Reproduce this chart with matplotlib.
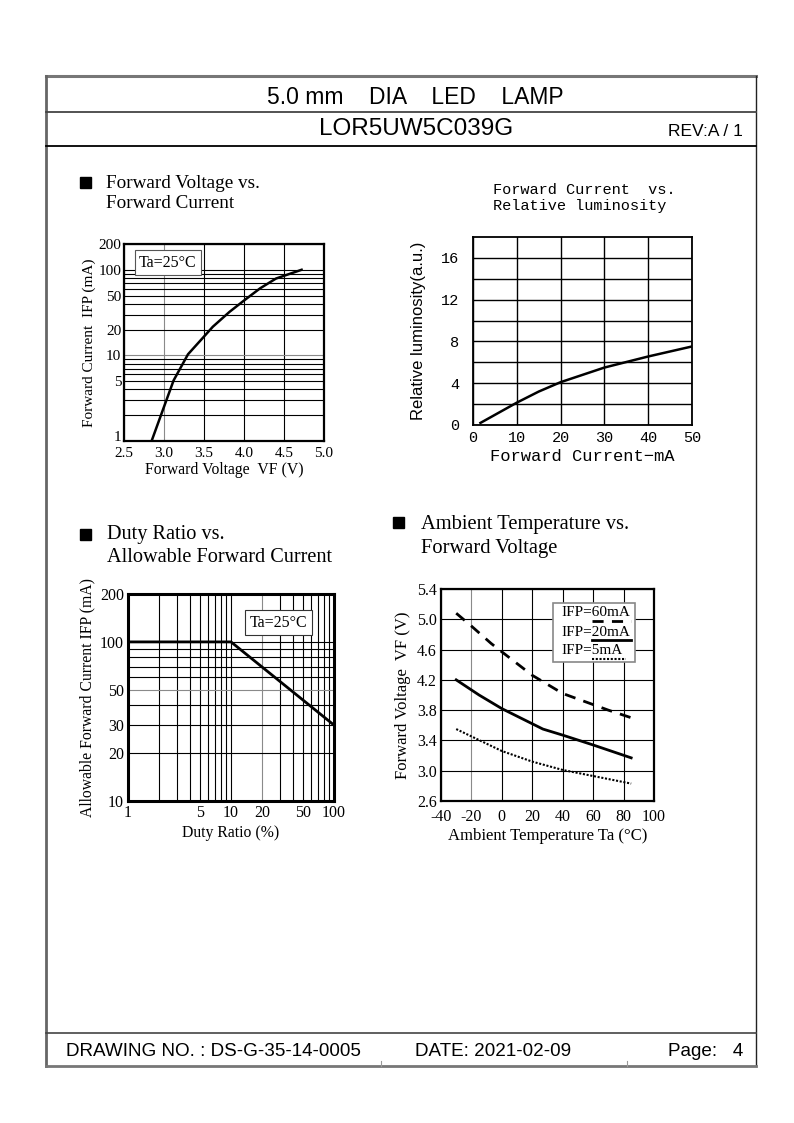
import numpy as np
import matplotlib.pyplot as plt
from matplotlib.lines import Line2D
from matplotlib.patches import Rectangle
from matplotlib.ticker import FixedLocator, NullFormatter

plt.rcParams['font.family'] = ['Liberation Serif', 'DejaVu Sans']
plt.rcParams['axes.unicode_minus'] = False

# ---- data ----
# forward voltage vs forward current (log y)
vf_volt = [2.845, 2.97, 3.12, 3.30, 3.49, 3.61, 3.82, 3.99, 4.20, 4.40, 4.72]
vf_curr = [1.0, 2.1, 5.1, 10.3, 16.2, 21.6, 32.3, 43.0, 60.6, 79.0, 100.0]

# forward current vs relative luminosity
lum_curr = [1.7, 10, 15, 20, 30, 40, 50]
lum_rel = [0.2, 2.14, 3.2, 4.1, 5.5, 6.56, 7.52]

# duty ratio vs allowable forward current
duty = [1, 10, 100]
duty_curr = [100, 100, 30]

# ambient temperature vs forward voltage
ta_60 = [-30, -20, -7, 0, 20, 40, 55, 70, 85]
vf_60 = [5.08, 4.91, 4.68, 4.57, 4.26, 4.02, 3.91, 3.80, 3.70]
ta_20 = [-30, -15, 0, 20, 27, 40, 60, 85]
vf_20 = [4.20, 4.00, 3.82, 3.62, 3.55, 3.47, 3.34, 3.17]
ta_5 = [-30, 0, 20, 40, 60, 85]
vf_5 = [3.55, 3.26, 3.12, 3.01, 2.93, 2.83]

legend_labels = ['60mA', '20mA', '5mA']

W, H = 794, 1123
fig = plt.figure(figsize=(W / 100, H / 100), dpi=100)


def box(x0, y0, x1, y1):
    # pixel box (top-left origin) -> figure fraction rect
    return [x0 / W, 1 - y1 / H, (x1 - x0) / W, (y1 - y0) / H]


def ptext(x, y, s, **kw):
    fig.text(x / W, 1 - y / H, s, **kw)


def pline(xs, ys, **kw):
    fig.add_artist(Line2D([x / W for x in xs], [1 - y / H for y in ys], **kw))


def psquare(x, y, s=11):
    fig.add_artist(Rectangle((x / W, 1 - (y + s) / H), s / W, s / H,
                             transform=fig.transFigure, color='k'))


def style_grid(ax, gray_x=(), gray_y=()):
    for t in ax.xaxis.get_major_ticks() + ax.xaxis.get_minor_ticks():
        t.gridline.set_color('#8a8a8a' if round(t.get_loc(), 3) in gray_x else 'k')
    for t in ax.yaxis.get_major_ticks() + ax.yaxis.get_minor_ticks():
        t.gridline.set_color('#8a8a8a' if round(t.get_loc(), 3) in gray_y else 'k')


# ---- page frame ----
pline([46, 756], [76, 76], color='#777777', lw=2.2)
pline([46, 46], [76, 1066], color='#666666', lw=2.0)
pline([756, 756], [76, 1066], color='#222222', lw=1.0)
pline([46, 756], [1066, 1066], color='#777777', lw=2.0)
pline([46, 756], [112, 112], color='#444444', lw=1.3)
pline([46, 756], [146, 146], color='k', lw=1.3)
pline([46, 756], [1033, 1033], color='#444444', lw=1.2)
pline([381, 381], [1061, 1066], color='#999999', lw=0.8)
pline([627, 627], [1061, 1066], color='#999999', lw=0.8)

sans = 'Liberation Sans'
ptext(415, 97, '5.0 mm    DIA    LED    LAMP', family=sans, fontsize=16.5,
      ha='center', va='center')
ptext(416, 129, 'LOR5UW5C039G', family=sans, fontsize=17.5, ha='center', va='center')
ptext(743, 131, 'REV:A / 1', family=sans, fontsize=12.5, ha='right', va='center')
ptext(66, 1052, 'DRAWING NO. : DS-G-35-14-0005', family=sans, fontsize=13.6,
      ha='left', va='center')
ptext(415, 1052, 'DATE: 2021-02-09', family=sans, fontsize=13.6, ha='left', va='center')
ptext(743, 1052, 'Page:   4', family=sans, fontsize=13.6, ha='right', va='center')

# ---- section headings ----
psquare(80, 177)
ptext(106, 183, 'Forward Voltage vs.', fontsize=13.8, va='center')
ptext(106, 204, 'Forward Current', fontsize=13.8, va='center')
psquare(80, 529)
ptext(107, 535, 'Duty Ratio vs.', fontsize=14.6, va='center')
ptext(107, 557, 'Allowable Forward Current', fontsize=14.6, va='center')
psquare(393, 517)
ptext(421, 524, 'Ambient Temperature vs.', fontsize=14.8, va='center')
ptext(421, 548, 'Forward Voltage', fontsize=14.8, va='center')

# ---- chart 1: forward voltage vs forward current ----
ax1 = fig.add_axes(box(124, 244, 324, 441))
ax1.set_yscale('log')
ax1.plot(vf_volt, vf_curr, color='k', lw=1.8, zorder=3)
ax1.set_xlim(2.5, 5.0)
ax1.set_ylim(1, 200)
ax1.set_xticks([2.5, 3.0, 3.5, 4.0, 4.5, 5.0])
ax1.set_xticklabels(['2.5', '3.0', '3.5', '4.0', '4.5', '5.0'])
ax1.set_yticks([1, 5, 10, 20, 50, 100, 200])
ax1.set_yticklabels(['1', '5', '10', '20', '50', '100', '200'])
ax1.yaxis.set_minor_locator(FixedLocator([2, 3, 4, 6, 7, 8, 9, 30, 40, 60, 70, 80, 90]))
ax1.yaxis.set_minor_formatter(NullFormatter())
ax1.grid(True, which='both', lw=0.8)
style_grid(ax1, gray_x=(3.0,), gray_y=(9, 10))
ax1.tick_params(which='both', length=0, labelsize=11)
ax1.tick_params(axis='x', pad=4)
ax1.tick_params(axis='y', pad=2)
ax1.get_yticklabels()[0].set_va('baseline')
for s in ax1.spines.values():
    s.set_linewidth(1.6)
ax1.set_xlabel('Forward Voltage  VF (V)', fontsize=11.3, labelpad=2)
ax1.set_ylabel('Forward Current  IFP (mA)', fontsize=11, labelpad=2)
ax1.text(0.075, 0.945, 'Ta=25°C', transform=ax1.transAxes, fontsize=11.5,
         ha='left', va='top', zorder=4,
         bbox=dict(boxstyle='square,pad=0.28', fc='white', ec='#555555', lw=0.8))

# ---- chart 2: forward current vs relative luminosity ----
mono = 'Liberation Mono'
ax2 = fig.add_axes(box(473, 237, 692, 425))
ax2.plot(lum_curr, lum_rel, color='k', lw=1.8, zorder=3)
ax2.set_xlim(0, 50)
ax2.set_ylim(0, 18)
ax2.set_xticks([0, 10, 20, 30, 40, 50])
ax2.set_yticks([0, 4, 8, 12, 16])
ax2.yaxis.set_minor_locator(FixedLocator([2, 6, 10, 14]))
ax2.grid(True, which='both', lw=1.0)
style_grid(ax2, gray_x=(10, 40), gray_y=(10,))
ax2.tick_params(which='both', length=0, labelsize=11)
ax2.tick_params(axis='y', pad=10)
ax2.tick_params(axis='x', pad=4)
for lab in ax2.get_xticklabels() + ax2.get_yticklabels():
    lab.set_family(mono)
for s in ax2.spines.values():
    s.set_linewidth(1.3)
ax2.set_xlabel('Forward Current\u2212mA', family=mono, fontsize=12.3, labelpad=3)
ax2.set_ylabel('Relative luminosity(a.u.)', family=sans, fontsize=12, labelpad=11)
ptext(493, 190, 'Forward Current  vs.', family=mono, fontsize=11, va='center')
ptext(493, 206, 'Relative luminosity', family=mono, fontsize=11, va='center')

# ---- chart 3: duty ratio vs allowable forward current ----
ax3 = fig.add_axes(box(128, 594, 334, 801))
ax3.set_xscale('log')
ax3.set_yscale('log')
ax3.plot(duty, duty_curr, color='k', lw=2.0, zorder=3)
ax3.set_xlim(1, 100)
ax3.set_ylim(10, 200)
ax3.set_xticks([1, 5, 10, 20, 50, 100])
ax3.set_xticklabels(['1', '5', '10', '20', '50', '100'])
ax3.xaxis.set_minor_locator(FixedLocator([2, 3, 4, 6, 7, 8, 9, 30, 40, 60, 70, 80, 90]))
ax3.xaxis.set_minor_formatter(NullFormatter())
ax3.set_yticks([10, 20, 30, 50, 100, 200])
ax3.set_yticklabels(['10', '20', '30', '50', '100', '200'])
ax3.yaxis.set_minor_locator(FixedLocator([40, 60, 70, 80, 90]))
ax3.yaxis.set_minor_formatter(NullFormatter())
ax3.grid(True, which='both', lw=0.8)
style_grid(ax3, gray_x=(3, 8, 9, 20, 40), gray_y=(40, 50))
ax3.tick_params(which='both', length=0, labelsize=11.5, pad=3)
for s in ax3.spines.values():
    s.set_linewidth(2.2)
ax3.set_xlabel('Duty Ratio (%)', fontsize=11.3, labelpad=3)
ax3.set_ylabel('Allowable Forward Current IFP (mA)', fontsize=11.3, labelpad=3)
ax3.text(0.87, 0.9, 'Ta=25°C', transform=ax3.transAxes, fontsize=11.5,
         ha='right', va='top', zorder=4,
         bbox=dict(boxstyle='square,pad=0.3', fc='white', ec='#333333', lw=0.8))

# ---- chart 4: ambient temperature vs forward voltage ----
ax4 = fig.add_axes(box(441, 589, 654, 801))
ax4.plot(ta_60, vf_60, color='k', lw=2.0, dashes=(4, 3), zorder=3)
ax4.plot(ta_20, vf_20, color='k', lw=2.0, zorder=3)
ax4.plot(ta_5, vf_5, color='k', lw=1.5, dashes=(1, 0.8), zorder=3)
ax4.set_xlim(-40, 100)
ax4.set_ylim(2.6, 5.4)
ax4.set_xticks([-40, -20, 0, 20, 40, 60, 80, 100])
ax4.set_xticklabels(['-40', '-20', '0', '20', '40', '60', '80', '100'])
ax4.set_yticks([2.6, 3.0, 3.4, 3.8, 4.2, 4.6, 5.0, 5.4])
ax4.set_yticklabels(['2.6', '3.0', '3.4', '3.8', '4.2', '4.6', '5.0', '5.4'])
ax4.grid(True, lw=0.8)
style_grid(ax4, gray_x=(-20,))
ax4.tick_params(length=0, labelsize=11.5)
ax4.tick_params(axis='x', pad=6)
ax4.tick_params(axis='y', pad=3)
for s in ax4.spines.values():
    s.set_linewidth(1.6)
ax4.set_xlabel('Ambient Temperature Ta (°C)', fontsize=12, labelpad=2)
ax4.set_ylabel('Forward Voltage  VF (V)', fontsize=12, labelpad=4)

# custom legend box
ax4.add_patch(Rectangle((0.526, 0.656), 0.385, 0.278, transform=ax4.transAxes,
                        fc='white', ec='#888888', lw=1.2, zorder=4))
row_y = [0.887, 0.797, 0.708]
styles = [dict(lw=2.0, dashes=(4, 3)), dict(lw=2.0), dict(lw=1.5, dashes=(1, 0.8))]
for yy, lab, st in zip(row_y, legend_labels, styles):
    ax4.text(0.566, yy, 'IFP=' + lab, transform=ax4.transAxes, fontsize=11,
             ha='left', va='center', zorder=5)
    ax4.add_line(Line2D([0.71, 0.89 if lab != '5mA' else 0.87], [yy - 0.037] * 2,
                        transform=ax4.transAxes, color='k', zorder=5, **st))

fig.savefig('out.png', dpi=100)
